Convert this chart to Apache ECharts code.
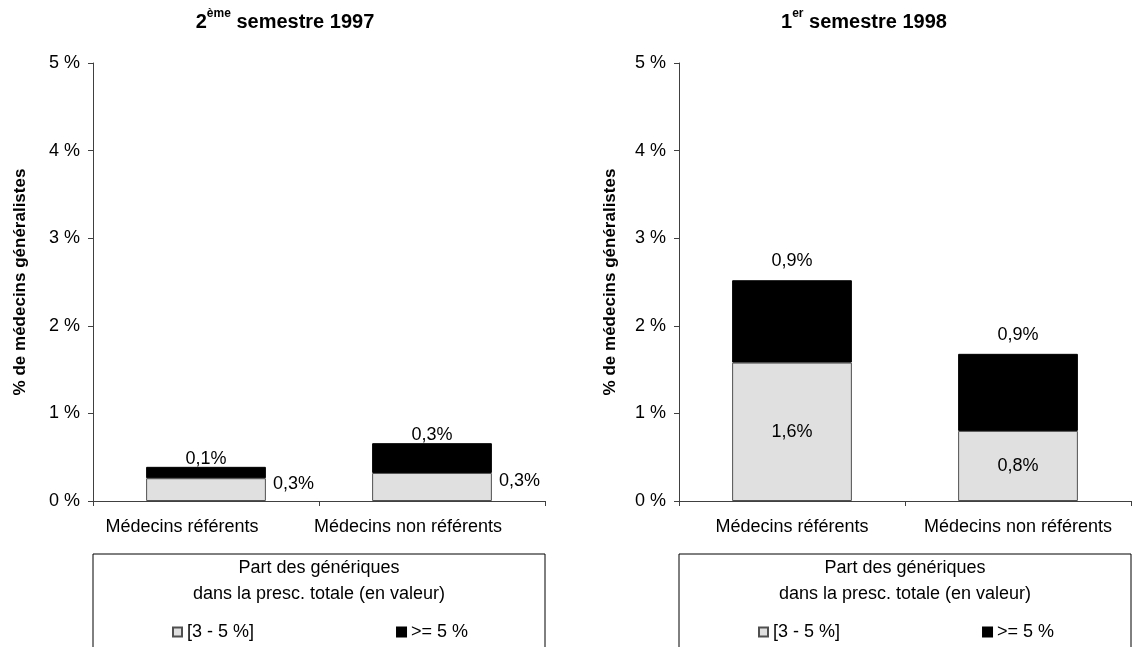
<!DOCTYPE html>
<html>
<head>
<meta charset="utf-8">
<title>Part des génériques</title>
<script src="https://cdn.jsdelivr.net/npm/echarts@6/dist/echarts.min.js"></script>
<style>
  html, body { margin: 0; padding: 0; background: #fff; }
  #chart { width: 1134px; height: 647px; }
</style>
</head>
<body>
<div id="chart"></div>
<script>
// Catégories de médecins
const categories = ['Médecins référents', 'Médecins non référents'];
// Classes de part des génériques
const seriesNames = ['[3 - 5 %]', '>= 5 %'];
// % de médecins généralistes, 2ème semestre 1997
const s1997Low = [0.26, 0.32];
const s1997High = [0.13, 0.34];
// % de médecins généralistes, 1er semestre 1998
const s1998Low = [1.58, 0.80];
const s1998High = [0.94, 0.88];
// Graduations de l'axe vertical
const yTicks = [0, 1, 2, 3, 4, 5];

const FONT = '"Liberation Sans", Arial, sans-serif';
const LIGHT = '#e0e0e0';
const DARK = '#000000';

const pct = v => v.toFixed(1).replace('.', ',') + '%';

const chart = echarts.init(document.getElementById('chart'), null, { renderer: 'canvas' });

const panels = [
  { left: 93, low: s1997Low, high: s1997High, lowLabel: 'right', highDist: -1, catPad: [0, 48, 0, 0],
    nameGap: 64, title: '{n|2}{s|ème}{n| semestre 1997}', titleX: 285 },
  { left: 679, low: s1998Low, high: s1998High, lowLabel: 'inside', highDist: 10, catPad: [0, 0, 0, 0],
    nameGap: 60, title: '{n|1}{s|er}{n| semestre 1998}', titleX: 864 }
];
const PW = 452, PT = 63, PH = 438;

const grid = [], xAxis = [], yAxis = [], series = [], legend = [], graphic = [];

panels.forEach((p, i) => {
  grid.push({ left: p.left, top: PT, width: PW, height: PH, containLabel: false });
  xAxis.push({
    type: 'category', gridIndex: i, data: categories,
    axisLine: { lineStyle: { color: '#404040', width: 1 } },
    axisTick: { show: true, length: 5, lineStyle: { color: '#404040' } },
    axisLabel: { color: '#000', fontFamily: FONT, fontSize: 18, margin: 17, padding: p.catPad,
                 interval: 0, hideOverlap: false },
    splitLine: { show: false }
  });
  yAxis.push({
    type: 'value', gridIndex: i, min: yTicks[0], max: yTicks[yTicks.length - 1], interval: 1,
    name: '% de médecins généralistes', nameLocation: 'middle', nameGap: p.nameGap, nameRotate: 90,
    nameTextStyle: { color: '#000', fontFamily: FONT, fontSize: 17, fontWeight: 'bold' },
    axisLine: { show: true, lineStyle: { color: '#404040', width: 1 } },
    axisTick: { show: true, length: 5, lineStyle: { color: '#404040' } },
    axisLabel: { color: '#000', fontFamily: FONT, fontSize: 18, margin: 13, formatter: v => v + ' %' },
    splitLine: { show: false }
  });
  series.push({
    name: seriesNames[0], type: 'bar', stack: 'g' + i, xAxisIndex: i, yAxisIndex: i,
    data: p.low, barWidth: '53%',
    itemStyle: { color: LIGHT, borderColor: '#505050', borderWidth: 1 },
    label: {
      show: true, position: p.lowLabel, distance: 7,
      offset: p.lowLabel === 'right' ? [0, -6] : [0, 0],
      color: '#000', fontFamily: FONT, fontSize: 18,
      formatter: d => pct(d.value)
    }
  });
  series.push({
    name: seriesNames[1], type: 'bar', stack: 'g' + i, xAxisIndex: i, yAxisIndex: i,
    data: p.high, barWidth: '53%',
    itemStyle: { color: DARK, borderColor: '#000', borderWidth: 1 },
    label: {
      show: true, position: 'top', distance: p.highDist,
      color: '#000', fontFamily: FONT, fontSize: 18,
      formatter: d => pct(d.value)
    }
  });
  legend.push({
    data: seriesNames, left: p.left + 74, top: 618, orient: 'horizontal',
    itemWidth: 9, itemHeight: 9, itemGap: 142, icon: 'rect',
    selectedMode: false,
    textStyle: { color: '#000', fontFamily: FONT, fontSize: 18 }
  });
  // Cadre et intitulé de la légende
  graphic.push({
    type: 'rect', shape: { x: p.left, y: 554, width: PW, height: 120 },
    style: { fill: 'none', stroke: '#000', lineWidth: 1 }, silent: true
  });
  graphic.push({
    type: 'text', x: p.left + PW / 2, y: 555,
    style: {
      text: 'Part des génériques\ndans la presc. totale (en valeur)',
      align: 'center', verticalAlign: 'top', lineHeight: 26,
      fontFamily: FONT, fontSize: 18, fill: '#000'
    }, silent: true
  });
  // Titre du panneau
  graphic.push({
    type: 'text', x: p.titleX, y: 8,
    style: {
      text: p.title, align: 'center', verticalAlign: 'top', fill: '#000',
      rich: {
        n: { fontFamily: FONT, fontSize: 20, fontWeight: 'bold', lineHeight: 24, verticalAlign: 'bottom' },
        s: { fontFamily: FONT, fontSize: 12, fontWeight: 'bold', lineHeight: 24, verticalAlign: 'top', padding: [0, 0, 10, 0] }
      }
    }, silent: true
  });
});

chart.setOption({
  backgroundColor: '#fff',
  animation: false,
  grid, xAxis, yAxis, series, legend, graphic
});
</script>
</body>
</html>
